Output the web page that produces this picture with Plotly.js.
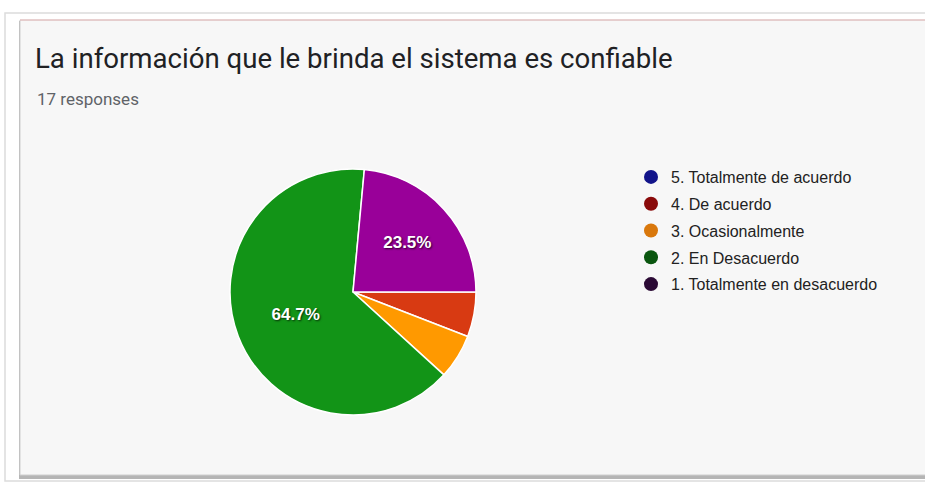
<!DOCTYPE html>
<html>
<head>
<meta charset="utf-8">
<script src="https://cdn.plot.ly/plotly-3.0.1.min.js"></script>
<style>
html,body{margin:0;padding:0;background:#ffffff;}
#chart{width:925px;height:483px;}
</style>
</head>
<body>
<div id="chart"></div>
<script>
// Data
const categories = ["5. Totalmente de acuerdo", "4. De acuerdo", "3. Ocasionalmente", "2. En Desacuerdo", "1. Totalmente en desacuerdo"];
const counts = [0, 1, 1, 11, 4];
const sliceColors = ["#3366cc", "#d83a12", "#ff9900", "#129417", "#990099"];
const legendColors = ["#12148a", "#8a0a0a", "#d9780c", "#0a560f", "#2b0a35"];
const titleText = "La información que le brinda el sistema es confiable";
const subtitleText = "17 responses";

const W = 925, H = 483;
const total = counts.reduce((a, b) => a + b, 0);
const sliceText = counts.map(v => (v / total >= 0.1 ? (v / total * 100).toFixed(1) + "%" : ""));

const pie = {
  type: "pie",
  labels: categories,
  values: counts,
  text: sliceText,
  textinfo: "text",
  textposition: "inside",
  insidetextorientation: "horizontal",
  sort: false,
  direction: "clockwise",
  rotation: 90,
  showlegend: false,
  hoverinfo: "label+percent",
  marker: { colors: sliceColors, line: { color: "#ffffff", width: 1.5 } },
  textfont: { family: "Arial, Liberation Sans, sans-serif", size: 17, color: "#ffffff", weight: "bold", shadow: "1px 1px 2px rgba(0,0,0,0.7)" },
  domain: { x: [230 / W, 476 / W], y: [68 / H, 314 / H] }
};

const legendTraces = categories.map((c, i) => ({
  type: "scatter",
  mode: "markers",
  x: [null], y: [null],
  name: c,
  legendgroup: "g" + i,
  marker: { color: legendColors[i], size: 14, symbol: "circle" },
  hoverinfo: "skip"
}));

const layout = {
  width: W, height: H,
  margin: { l: 0, r: 0, t: 0, b: 0 },
  paper_bgcolor: "#ffffff",
  plot_bgcolor: "rgba(0,0,0,0)",
  xaxis: { visible: false, domain: [0.99, 1] },
  yaxis: { visible: false, domain: [0.99, 1] },
  showlegend: true,
  legend: {
    x: 631 / W, y: 1 - 160 / H, xanchor: "left", yanchor: "top",
    bgcolor: "rgba(0,0,0,0)",
    font: { family: "Arial, Liberation Sans, sans-serif", size: 16, color: "#222222" },
    tracegroupgap: 3,
    itemwidth: 30
  },
  title: {
    text: titleText,
    x: 35 / W, xanchor: "left", xref: "paper",
    y: 1 - 58 / H, yanchor: "middle", yref: "container",
    font: { family: "Roboto, sans-serif", size: 27.6, color: "#202124" }
  },
  annotations: [{
    text: subtitleText,
    xref: "paper", yref: "paper",
    x: 35 / W, y: 1 - 99 / H, xanchor: "left", yanchor: "middle",
    showarrow: false,
    font: { family: "Roboto, sans-serif", size: 17, color: "#5f6368" }
  }],
  shapes: [
    { type: "rect", xref: "paper", yref: "paper", layer: "below",
      x0: 5 / W, x1: 1.02, y0: 2 / H, y1: 1 - 13 / H,
      fillcolor: "#ffffff", line: { color: "#dcdcdc", width: 1.5 } },
    { type: "rect", xref: "paper", yref: "paper", layer: "below",
      x0: 19 / W, x1: 1.02, y0: 4 / H, y1: 1 - 21 / H,
      fillcolor: "#b5b5b5", line: { width: 0 } },
    { type: "rect", xref: "paper", yref: "paper", layer: "below",
      x0: 20 / W, x1: 1.02, y0: 8 / H, y1: 1 - 20 / H,
      fillcolor: "#f7f7f7", line: { color: "#cfcfcf", width: 1 } },
    { type: "line", xref: "paper", yref: "paper", layer: "below",
      x0: 20 / W, x1: 1.02, y0: 1 - 20 / H, y1: 1 - 20 / H,
      line: { color: "#e8b8b8", width: 1 } }
  ]
};

Plotly.newPlot("chart", [pie].concat(legendTraces), layout, { displayModeBar: false, staticPlot: true });
</script>
</body>
</html>
